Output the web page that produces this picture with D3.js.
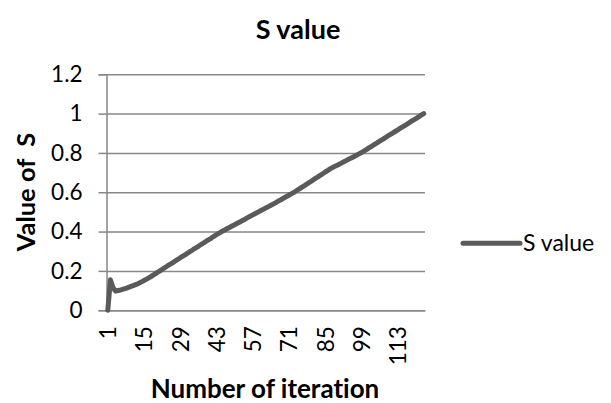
<!DOCTYPE html>
<html>
<head>
<meta charset="utf-8">
<script src="https://cdn.jsdelivr.net/npm/d3@7"></script>
<style>
  html, body { margin: 0; padding: 0; background: #fff; }
  text { font-family: Lato, "Liberation Sans", sans-serif; fill: #000; font-variant-ligatures: none; }
</style>
</head>
<body>
<div id="chart"></div>
<script>
// S value per iteration
const sValues = [
    0, 0.155, 0.115, 0.097, 0.100, 0.103, 0.107, 0.111, 0.116, 0.121,
    0.126, 0.131, 0.137, 0.144, 0.151, 0.158, 0.166, 0.174, 0.182, 0.191,
    0.199, 0.208, 0.216, 0.225, 0.233, 0.241, 0.250, 0.258, 0.267, 0.275,
    0.283, 0.292, 0.300, 0.309, 0.317, 0.325, 0.334, 0.342, 0.351, 0.359,
    0.367, 0.376, 0.384, 0.392, 0.400, 0.407, 0.414, 0.421, 0.428, 0.435,
    0.442, 0.449, 0.456, 0.463, 0.471, 0.478, 0.485, 0.492, 0.499, 0.506,
    0.513, 0.520, 0.527, 0.534, 0.541, 0.548, 0.556, 0.563, 0.571, 0.578,
    0.585, 0.593, 0.600, 0.609, 0.617, 0.626, 0.634, 0.643, 0.651, 0.660,
    0.669, 0.677, 0.686, 0.694, 0.703, 0.711, 0.720, 0.727, 0.734, 0.740,
    0.747, 0.754, 0.761, 0.768, 0.774, 0.781, 0.788, 0.795, 0.802, 0.810,
    0.818, 0.827, 0.835, 0.843, 0.851, 0.860, 0.868, 0.876, 0.885, 0.893,
    0.901, 0.909, 0.917, 0.926, 0.934, 0.942, 0.950, 0.959, 0.967, 0.975,
    0.983, 0.992, 1.000
];
// iteration numbers (categories)
const iterations = sValues.map((d, i) => i + 1);
const xTickLabels = [1, 15, 29, 43, 57, 71, 85, 99, 113];
const yTickValues = [0, 0.2, 0.4, 0.6, 0.8, 1, 1.2];
const seriesName = 'S value';

const W = 611, H = 403;
const plot = { left: 106.5, right: 425, top: 74.3, bottom: 310.2 };

const svg = d3.select('#chart').append('svg')
    .attr('width', W)
    .attr('height', H);

// scales
const x = d3.scalePoint()
    .domain(iterations)
    .range([plot.left, plot.right])
    .padding(0.5);

const y = d3.scaleLinear()
    .domain([0, 1.2])
    .range([plot.bottom, plot.top]);

// gridlines + y ticks
const gridColor = '#878787';
const yAxis = svg.append('g')
    .attr('transform', `translate(${plot.left},0)`)
    .call(d3.axisLeft(y)
        .tickValues(yTickValues)
        .tickSize(8)
        .tickPadding(16)
        .tickFormat(d => d3.format('')(+d.toFixed(1))));
yAxis.select('.domain').attr('stroke', gridColor).attr('stroke-width', 1.5);
yAxis.selectAll('.tick line').attr('stroke', gridColor).attr('stroke-width', 1.5);
yAxis.selectAll('.tick text')
    .style('font-size', '22.5px')
    .attr('fill', '#000')
    .style('font-family', 'Lato, sans-serif');
yAxis.selectAll('.tick').append('line')
    .attr('x1', 0)
    .attr('x2', plot.right - plot.left)
    .attr('stroke', gridColor)
    .attr('stroke-width', 1.5);

// x axis (category)
const xAxis = svg.append('g')
    .attr('transform', `translate(0,${plot.bottom})`)
    .call(d3.axisBottom(x)
        .tickValues(xTickLabels)
        .tickSize(0)
        .tickPadding(0));
xAxis.select('.domain').attr('stroke', gridColor).attr('stroke-width', 1.5);
xAxis.selectAll('.tick text')
    .attr('transform', 'rotate(-90)')
    .attr('text-anchor', 'end')
    .attr('x', -16)
    .attr('y', 0)
    .attr('dy', '0.35em')
    .attr('fill', '#000')
    .style('font-size', '22.5px')
    .style('font-family', 'Lato, sans-serif');

// line
const line = d3.line()
    .x((d, i) => x(iterations[i]))
    .y(d => y(d));

svg.append('path')
    .datum(sValues)
    .attr('d', line)
    .attr('fill', 'none')
    .attr('stroke', '#5a5a5a')
    .attr('stroke-width', 5)
    .attr('stroke-linejoin', 'round')
    .attr('stroke-linecap', 'round');

// title
svg.append('text')
    .attr('x', 298)
    .attr('y', 39)
    .attr('text-anchor', 'middle')
    .style('font-size', '27px')
    .style('font-weight', 'bold')
    .text('S value');

// axis titles
svg.append('text')
    .attr('x', 265)
    .attr('y', 398)
    .attr('text-anchor', 'middle')
    .style('font-size', '26px')
    .style('font-weight', 'bold')
    .text('Number of iteration');

svg.append('text')
    .attr('transform', 'translate(35,192) rotate(-90)')
    .attr('text-anchor', 'middle')
    .style('font-size', '25.5px')
    .style('font-weight', 'bold')
    .style('white-space', 'pre')
    .text('Value of  S');

// legend
const legend = svg.append('g').attr('transform', 'translate(463,243.3)');
legend.append('line')
    .attr('x1', 0).attr('x2', 57)
    .attr('stroke', '#5a5a5a')
    .attr('stroke-width', 5)
    .attr('stroke-linecap', 'round');
legend.append('text')
    .attr('x', 60)
    .attr('dy', '0.35em')
    .style('font-size', '23px')
    .text(seriesName);
</script>
</body>
</html>
